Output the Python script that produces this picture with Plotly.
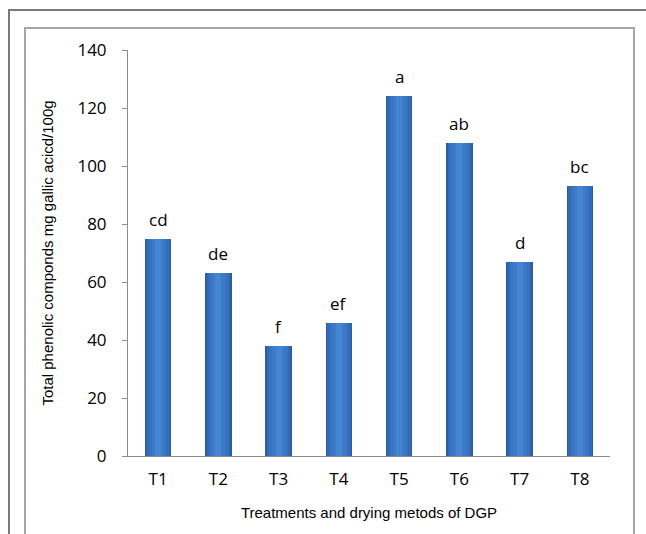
import plotly.graph_objects as go

# Total phenolic compounds per treatment / drying method
treatments = ["T1", "T2", "T3", "T4", "T5", "T6", "T7", "T8"]
phenolics = [75, 63, 38, 46, 124, 108, 67, 93]
groups = ["cd", "de", "f", "ef", "a", "ab", "d", "bc"]
y_ticks = [0, 20, 40, 60, 80, 100, 120, 140]

W, H = 646, 534
tick_font = dict(family="Open Sans, Noto Sans, sans-serif", size=17, color="#000000")
title_font = dict(family="Liberation Sans, Arial, sans-serif", size=15, color="#000000")

fig = go.Figure()

# Cylinder look: concentric bars, dark edge to light core
layers = [
    (0.44, "#2b5da0"),
    (0.39, "#326bb5"),
    (0.31, "#3874c2"),
    (0.21, "#3d7bca"),
    (0.10, "#4685d2"),
]
for width, color in layers:
    fig.add_trace(go.Bar(
        x=treatments, y=phenolics, width=width,
        marker=dict(color=color, line=dict(width=0)),
        hoverinfo="skip", showlegend=False,
    ))

# Significance letters above each bar
for t, v, g in zip(treatments, phenolics, groups):
    fig.add_annotation(x=t, y=v, text=g, showarrow=False,
                       yanchor="bottom", yshift=6, font=tick_font)

# Chart frames (outer border and inner plot panel)
fig.add_shape(type="rect", xref="paper", yref="paper",
              x0=(9 - 128) / 482, x1=(700 - 128) / 482,
              y0=(456 - 600) / 406, y1=(456 - 10) / 406,
              line=dict(color="#7a7a7a", width=2), layer="below")
fig.add_shape(type="rect", xref="paper", yref="paper",
              x0=(25 - 128) / 482, x1=(634 - 128) / 482,
              y0=(456 - 600) / 406, y1=(456 - 28) / 406,
              line=dict(color="#a6a6a6", width=2), layer="below")

fig.update_layout(
    width=W, height=H,
    margin=dict(l=128, r=36, t=50, b=78),
    paper_bgcolor="white", plot_bgcolor="white",
    barmode="overlay", bargap=0,
    xaxis=dict(
        showline=True, linecolor="#8c8c8c", linewidth=1,
        ticks="", tickfont=tick_font, showgrid=False, ticklabelstandoff=8,
        title=dict(text="Treatments and drying metods of DGP", font=title_font, standoff=18),
    ),
    yaxis=dict(
        range=[0, 140], tickvals=y_ticks, showline=True, linecolor="#8c8c8c",
        linewidth=1, ticks="outside", ticklen=5, tickcolor="#8c8c8c",
        tickfont=tick_font, showgrid=False, zeroline=False, ticklabelstandoff=12,
        title=dict(text="Total phenolic componds mg gallic acicd/100g", font=title_font, standoff=20),
    ),
)

fig.write_html("out.html")
